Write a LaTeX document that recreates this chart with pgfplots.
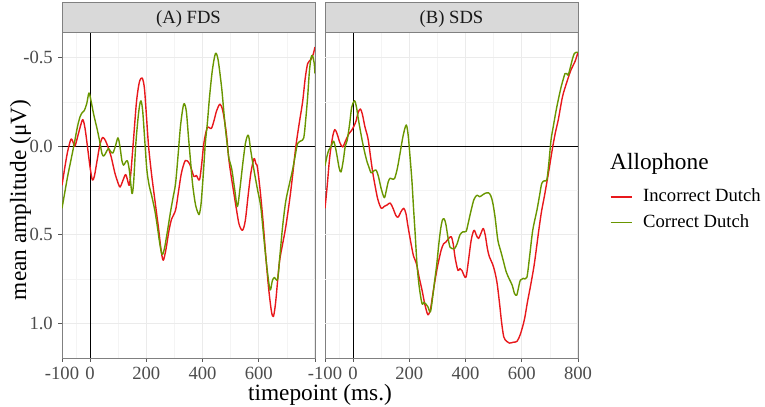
\documentclass[border=0pt]{standalone}
\usepackage{fontspec}
\setmainfont{Liberation Serif}
\usepackage{pgfplots}
\pgfplotsset{compat=1.18}
\usetikzlibrary{calc}
\definecolor{cRed}{RGB}{232,24,28}
\definecolor{cGreen}{RGB}{105,150,0}
\definecolor{gridc}{RGB}{235,235,235}
\definecolor{gridm}{RGB}{244,244,244}
\definecolor{borderc}{RGB}{128,128,128}
\definecolor{stripc}{RGB}{217,217,217}
\newcommand{\smallf}{\fontsize{18.7}{20}\selectfont}
\newcommand{\bigf}{\fontsize{23.4}{26}\selectfont}
\pgfplotsset{
 panel/.style={
  scale only axis, width=253bp, height=326bp,
  xmin=-100, xmax=800, ymin=-0.644, ymax=1.194, y dir=reverse,
  xtick={-100,0,200,400,600,800},
  minor xtick={-50,100,300,500,700},
  grid=both,
  major grid style={color=gridc, line width=1bp},
  minor grid style={color=gridm, line width=0.6bp},
  tick align=outside, major tick length=3.5bp, minor tick length=0pt,
  tick pos=left,
  axis line style={borderc, line width=0.9bp},
  tick style={black!65, line width=0.9bp},
  ticklabel style={font=\smallf, text=black!70, inner sep=0pt},
  xticklabel style={yshift=-5.2bp},
  yticklabel style={xshift=-5.5bp},
  clip mode=individual,
 },
 cr/.style={cRed, line width=1.4bp, smooth, tension=0.5, line join=round},
 cg/.style={cGreen, line width=1.4bp, smooth, tension=0.5, line join=round},
}
\begin{document}
\begin{tikzpicture}
\path[use as bounding box] (0,0) rectangle (765bp,407bp);
\begin{axis}[panel, name=A, at={(62bp,49bp)}, anchor=south west,
  ytick={-0.5,0,0.5,1}, minor ytick={-0.25,0.25,0.75},
  yticklabels={-0.5,0.0,0.5,1.0},
  xticklabels={-100,0,200,400,600,{}}]
\draw[black, line width=0.9bp] (axis cs:0,-0.644) -- (axis cs:0,1.194);
\draw[black, line width=0.9bp] (axis cs:-100,0) -- (axis cs:800,0);
\addplot[cr] coordinates {
(-100,0.22) (-90,0.12) (-80,0.03) (-68,-0.04) (-60,-0.02) (-54,0.00) (-45,-0.05)
(-35,-0.11) (-26,-0.15) (-18,-0.10) (-8,0.02) (0,0.12) (8,0.19) (15,0.17) (25,0.08)
(35,-0.01) (45,-0.05) (55,-0.03) (65,0.01) (75,0.06) (88,0.15) (100,0.21) (107,0.23)
(115,0.20) (126,0.16) (133,0.19) (139,0.22) (145,0.15) (155,-0.05) (165,-0.25)
(175,-0.36) (185,-0.385) (193,-0.33) (200,-0.18) (208,0.0) (218,0.15) (226,0.25)
(235,0.36) (244,0.47) (252,0.58) (260,0.643) (270,0.58) (280,0.48) (290,0.41)
(304,0.36) (315,0.25) (325,0.15) (339,0.08) (354,0.10) (369,0.17) (378,0.165)
(389,0.19) (397,0.10) (405,-0.02) (417,-0.105) (431,-0.10) (440,-0.14) (450,-0.20)
(462,-0.237) (472,-0.20) (484,-0.08) (494,0.08) (505,0.20) (520,0.35) (530,0.44)
(542,0.474) (552,0.42) (562,0.28) (572,0.15) (583,0.07) (590,0.10) (595,0.117)
(605,0.25) (615,0.42) (625,0.62) (635,0.80) (645,0.93) (652,0.96) (660,0.88)
(673,0.66) (685,0.55) (696,0.455) (710,0.30) (720,0.17) (732,0.0) (745,-0.14)
(756,-0.25) (765,-0.38) (774,-0.466) (786,-0.49) (794,-0.52) (800,-0.56)
};
\addplot[cg] coordinates {
(-100,0.35) (-90,0.26) (-80,0.17) (-71,0.10) (-62,0.03) (-54,-0.035) (-45,-0.11)
(-36,-0.165) (-28,-0.19) (-21,-0.20) (-12,-0.24) (-4,-0.30) (4,-0.25) (12,-0.185)
(20,-0.13) (26,-0.09) (35,-0.02) (42,0.04) (48,0.056) (55,0.04) (65,0.013) (73,0.03)
(81,0.038) (90,0.0) (99,-0.047) (106,0.0) (113,0.08) (119,0.107) (126,0.09) (133,0.083)
(140,0.14) (149,0.267) (155,0.20) (162,0.0) (170,-0.15) (176,-0.23) (181,-0.256)
(187,-0.2) (195,-0.02) (202,0.135) (210,0.22) (220,0.286) (230,0.36) (238,0.44)
(248,0.55) (256,0.61) (264,0.58) (274,0.49) (285,0.38) (295,0.29) (304,0.21)
(313,0.05) (322,-0.12) (333,-0.237) (342,-0.20) (350,-0.05) (357,0.079) (365,0.22)
(375,0.33) (385,0.38) (389,0.38) (395,0.32) (403,0.15) (410,-0.02) (417,-0.128)
(425,-0.28) (435,-0.43) (446,-0.523) (455,-0.49) (465,-0.37) (470,-0.297) (480,-0.12)
(490,0.02) (494,0.07) (504,0.13) (514,0.24) (524,0.34) (533,0.24) (543,0.10)
(553,-0.02) (563,-0.062) (572,0.03) (583,0.135) (595,0.24) (607,0.34) (617,0.50)
(628,0.67) (640,0.81) (648,0.76) (655,0.74) (667,0.75) (675,0.62) (685,0.45)
(696,0.31) (708,0.22) (720,0.135) (730,0.05) (738,-0.015) (750,-0.03) (760,-0.047)
(767,-0.15) (774,-0.28) (780,-0.42) (786,-0.50) (791,-0.51) (797,-0.47) (800,-0.41)
};
\end{axis}
\begin{axis}[panel, name=B, at={(325bp,49bp)}, anchor=south west,
  ytick=\empty, minor ytick=\empty,
  xticklabels={-100,0,200,400,600,800},
  legend style={at={(1.1265,0.5193)}, anchor=north west, draw=none, fill=none,
    inner sep=0pt, outer sep=0pt, row sep=12.3bp, column sep=10bp, font=\smallf,
    nodes={inner sep=0pt, text height=13bp, text depth=0pt}},
  legend cell align=left,
  legend image code/.code={\draw[#1, line width=1.5bp] (0bp,-2bp) -- (21.7bp,-2bp);}]
\pgfplotsinvokeforeach{-0.5,0,0.5,1}{\draw[gridc, line width=1bp] (axis cs:-100,#1) -- (axis cs:800,#1);}
\pgfplotsinvokeforeach{-0.25,0.25,0.75}{\draw[gridm, line width=0.6bp] (axis cs:-100,#1) -- (axis cs:800,#1);}
\draw[black, line width=0.9bp] (axis cs:0,-0.644) -- (axis cs:0,1.194);
\draw[black, line width=0.9bp] (axis cs:-100,0) -- (axis cs:800,0);
\addplot[cr] coordinates {
(-100,0.35) (-92,0.22) (-85,0.09) (-80,0.02) (-72,-0.06) (-65,-0.094) (-57,-0.07)
(-47,-0.02) (-37,0.004) (-27,-0.03) (-15,-0.07) (-5,-0.09) (2,-0.11) (10,-0.14)
(18,-0.19) (26,-0.21) (33,-0.18) (42,-0.11) (53,-0.043) (62,0.06) (70,0.15) (79,0.23)
(88,0.30) (100,0.35) (110,0.34) (122,0.33) (132,0.32) (142,0.35) (152,0.39) (160,0.40)
(170,0.37) (180,0.35) (188,0.38) (195,0.45) (205,0.54) (215,0.62) (225,0.66) (235,0.74)
(245,0.81) (255,0.89) (266,0.95) (275,0.92) (282,0.85) (290,0.77) (300,0.68)
(313,0.587) (322,0.55) (330,0.54) (340,0.52) (349,0.51) (356,0.55) (363,0.63)
(373,0.70) (380,0.69) (387,0.70) (395,0.73) (402,0.737) (410,0.65) (420,0.53)
(430,0.474) (438,0.50) (446,0.52) (455,0.49) (463,0.464) (470,0.50) (478,0.58)
(485,0.624) (495,0.66) (503,0.70) (512,0.77) (521,0.887) (528,0.99) (536,1.075)
(546,1.10) (556,1.11) (570,1.105) (583,1.10) (595,1.06) (609,0.98) (620,0.88)
(632,0.78) (645,0.66) (660,0.48) (670,0.37) (680,0.286) (695,0.15) (710,0.004)
(720,-0.08) (730,-0.15) (745,-0.28) (760,-0.36) (775,-0.43) (790,-0.48) (800,-0.53)
};
\addlegendentry{Incorrect Dutch}
\addplot[cg] coordinates {
(-100,0.11) (-92,0.05) (-86,0.02) (-78,0.0) (-69,-0.028) (-60,0.03) (-50,0.12)
(-43,0.145) (-35,0.08) (-28,0.0) (-21,-0.034) (-12,-0.13) (-5,-0.22) (5,-0.256)
(12,-0.22) (20,-0.14) (32,-0.034) (42,0.04) (50,0.09) (56,0.117) (64,0.15) (73,0.14)
(82,0.135) (90,0.17) (100,0.24) (111,0.29) (118,0.25) (125,0.20) (132,0.18)
(140,0.185) (148,0.18) (158,0.12) (168,0.03) (178,-0.06) (189,-0.12) (196,-0.06)
(202,0.05) (209,0.19) (215,0.35) (221,0.50) (227,0.66) (235,0.79) (245,0.887)
(252,0.88) (259,0.89) (266,0.905) (275,0.934) (283,0.85) (290,0.76) (298,0.66)
(305,0.55) (312,0.46) (318,0.415) (324,0.41) (330,0.44) (338,0.52) (345,0.57)
(353,0.578) (361,0.577) (370,0.55) (380,0.50) (390,0.483) (402,0.48) (410,0.43)
(420,0.36) (430,0.30) (441,0.276) (450,0.285) (460,0.275) (470,0.265) (482,0.263)
(490,0.28) (497,0.32) (505,0.40) (515,0.53) (525,0.59) (535,0.65) (545,0.71)
(556,0.75) (566,0.784) (574,0.83) (582,0.84) (588,0.80) (595,0.755) (605,0.745)
(618,0.74) (628,0.62) (639,0.474) (654,0.36) (663,0.28) (671,0.21) (680,0.195)
(689,0.19) (696,0.10) (704,-0.034) (712,-0.11) (722,-0.20) (731,-0.27) (740,-0.334)
(748,-0.38) (754,-0.41) (760,-0.41) (765,-0.40) (772,-0.44) (780,-0.49) (787,-0.523)
(794,-0.53) (800,-0.53)
};
\addlegendentry{Correct Dutch}
\end{axis}
% strips
\draw[fill=stripc, draw=borderc, line width=0.9bp] (A.north west) rectangle ([yshift=29.5bp]A.north east);
\draw[fill=stripc, draw=borderc, line width=0.9bp] (B.north west) rectangle ([yshift=29.5bp]B.north east);
\node[anchor=base, inner sep=0pt, font=\smallf, text=black!90] at ($(A.north west)!0.5!(A.north east)+(0,8.7bp)$) {(A) FDS};
\node[anchor=base, inner sep=0pt, font=\smallf, text=black!90] at ($(B.north west)!0.5!(B.north east)+(0,8.7bp)$) {(B) SDS};
% titles
\node[anchor=base, inner sep=0pt, font=\bigf] at (320bp,7bp) {timepoint (ms.)};
\node[anchor=base, rotate=90, inner sep=0pt, font=\bigf] at (26bp,207bp) {mean amplitude (μV)};
\node[anchor=base west, inner sep=0pt, font=\bigf] at (610bp,237bp) {Allophone};
\end{tikzpicture}
\end{document}
